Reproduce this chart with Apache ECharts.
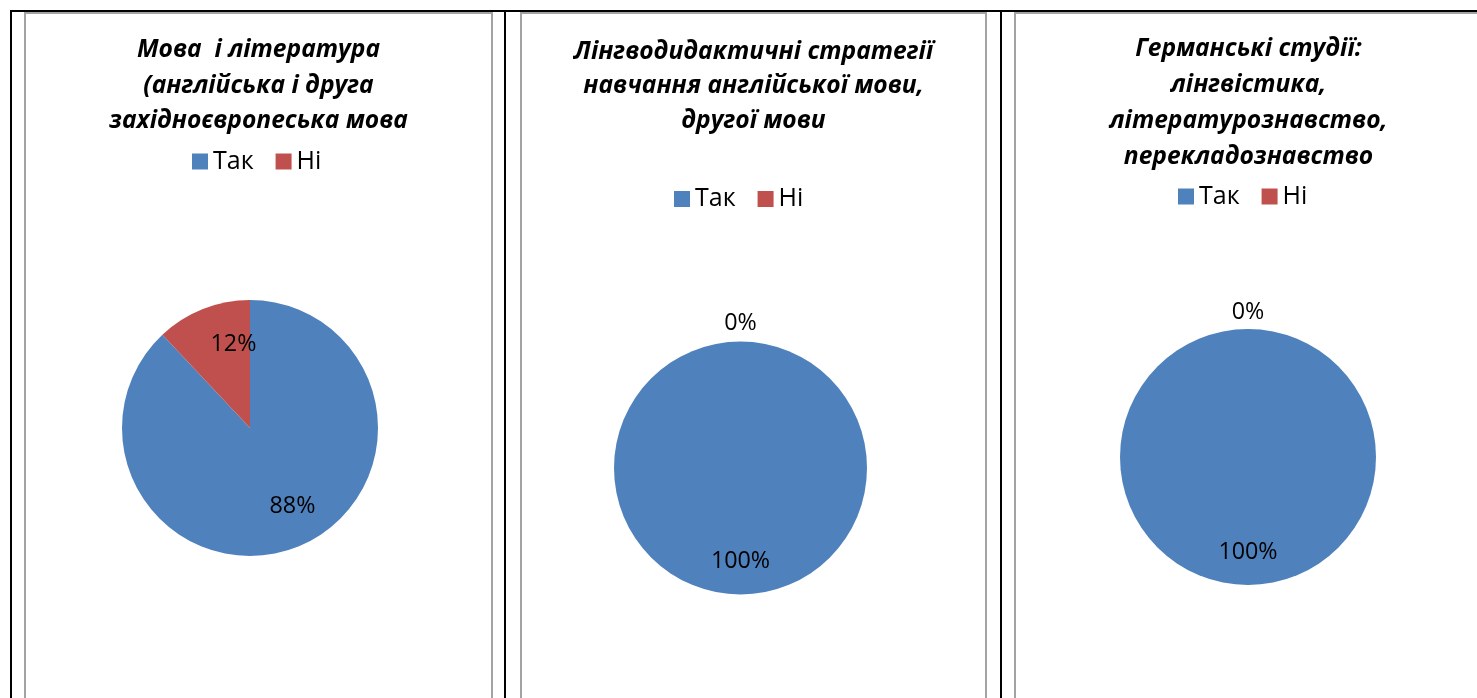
<!DOCTYPE html>
<html><head><meta charset="utf-8">
<script src="https://cdn.jsdelivr.net/npm/echarts@6/dist/echarts.min.js"></script>
<style>
html,body{margin:0;padding:0;background:#fff;width:1477px;height:698px;overflow:hidden;position:relative}
.bl{position:absolute;background:#000}
.panel{position:absolute;top:12px;height:700px;border:2px solid #a3a3a3;border-bottom:none;box-sizing:border-box;background:#fff}
.chart{position:absolute;left:0;top:0;right:0;bottom:0}
</style></head><body>
<div class="bl" style="left:10px;top:10px;width:1467px;height:2px"></div>
<div class="bl" style="left:10px;top:10px;width:2px;height:700px"></div>
<div class="bl" style="left:504px;top:10px;width:2px;height:700px"></div>
<div class="bl" style="left:1000px;top:10px;width:2px;height:700px"></div>
<div class="panel" style="left:24px;width:469px"><div class="chart" id="c1"></div></div>
<div class="panel" style="left:520px;width:467px"><div class="chart" id="c2"></div></div>
<div class="panel" style="left:1014px;width:469px"><div class="chart" id="c3"></div></div>
<script>
// ---- data ----
const categories = ['Так', 'Ні'];
const title1 = 'Мова  і література\n(англійська і друга\nзахідноєвропеська мова';
const title2 = 'Лінгводидактичні стратегії\nнавчання англійської мови,\nдругої мови';
const title3 = 'Германські студії:\nлінгвістика,\nлітературознавство,\nперекладознавство';
const values1 = [88, 12];
const values2 = [100, 0];
const values3 = [100, 0];

// ---- styling ----
const colors = ['#4F81BD', '#C0504D'];
const FONT = 'Open Sans';

function makeOption(titleText, values, lay) {
  const base = {
    type: 'pie', center: lay.center, startAngle: 90, clockwise: true,
    silent: true, animation: false, avoidLabelOverlap: false,
    labelLine: { show: false }
  };
  const lbl = { position: 'inside', color: '#000', fontSize: 23.3, fontFamily: FONT,
    formatter: p => p.value + '%' };
  return {
    animation: false,
    color: colors,
    title: {
      text: titleText, left: 'center', top: lay.titleTop, padding: 0,
      textStyle: { fontFamily: FONT, fontStyle: 'italic', fontWeight: 'bold',
        fontSize: 24.6, lineHeight: lay.titleLH, color: '#000' }
    },
    legend: {
      data: categories, left: lay.legendLeft, top: lay.legendTop, padding: 0,
      icon: 'rect', itemWidth: 16, itemHeight: 16, itemGap: 22,
      selectedMode: false,
      textStyle: { fontFamily: FONT, fontSize: 25, lineHeight: 25, color: '#000' }
    },
    series: [
      Object.assign({}, base, {
        name: 'main', radius: lay.r,
        label: { show: false },
        itemStyle: { borderWidth: 0 },
        data: categories.map((c, i) => ({ name: c, value: values[i] }))
      }),
      Object.assign({}, base, {
        name: 'inLabels', radius: [0, lay.dIn * 2],
        itemStyle: { color: 'transparent' },
        label: lbl,
        labelLayout: p => (lay.nudge ? lay.nudge[p.dataIndex] : {}),
        data: categories.map((c, i) => ({ name: c, value: values[i],
          label: { show: values[i] > 0 } }))
      }),
      Object.assign({}, base, {
        name: 'zeroLabels', radius: [0, lay.dZero * 2],
        itemStyle: { color: 'transparent' },
        label: lbl,
        data: categories.map((c, i) => ({ name: c, value: values[i],
          label: { show: values[i] === 0 } }))
      })
    ]
  };
}

const layouts = [
  { center: [224, 414], r: 128, dIn: 88, dZero: 147, titleTop: 18.5, titleLH: 35.5, legendLeft: 166, legendTop: 135,
    nudge: [{ dx: 9, dy: -6 }, { dx: 17, dy: 1 }] },
  { center: [218.5, 454], r: 126.5, dIn: 90, dZero: 142, titleTop: 20.5, titleLH: 34.5, legendLeft: 152, legendTop: 172.5 },
  { center: [232, 443], r: 128, dIn: 92, dZero: 142, titleTop: 16.5, titleLH: 36, legendLeft: 162, legendTop: 170 }
];
const titles = [title1, title2, title3];
const valueSets = [values1, values2, values3];
['c1', 'c2', 'c3'].forEach((id, k) => {
  const ch = echarts.init(document.getElementById(id), null, { renderer: 'canvas' });
  ch.setOption(makeOption(titles[k], valueSets[k], layouts[k]));
});
</script>
</body></html>
